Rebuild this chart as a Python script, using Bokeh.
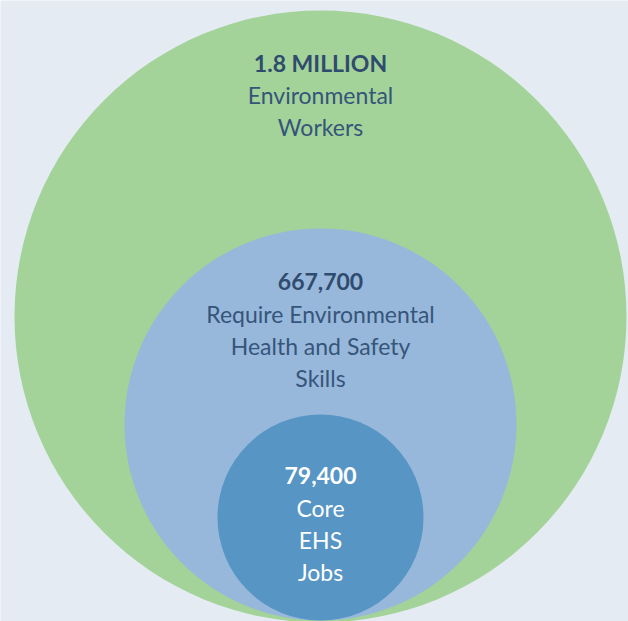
from bokeh.plotting import figure
from bokeh.embed import file_html
from bokeh.resources import INLINE
from bokeh.core.properties import value
from bokeh.models import Range1d

# Data
categories = ["Environmental Workers", "Require EHS Skills", "Core EHS Jobs"]
counts = ["1.8 MILLION", "667,700", "79,400"]
descriptions = [
    ["Environmental", "Workers"],
    ["Require Environmental", "Health and Safety", "Skills"],
    ["Core", "EHS", "Jobs"],
]

# Layout / style (pixel coordinates, y measured from top)
W, H = 628, 621
centers_x = [320, 320, 320]
centers_y = [316, 424, 517]
radii = [306, 196, 103]
fills = ["#a3d398", "#97b8db", "#5795c5"]
title_colors = ["#2f4b6e", "#2f4b6e", "#ffffff"]
text_colors = ["#36557a", "#36557a", "#ffffff"]
title_y = [62, 281, 475]
line_gap = 32
font = "Lato"

p = figure(width=W, height=H, output_backend="svg", toolbar_location=None,
           x_range=Range1d(0, W), y_range=Range1d(H, 0),
           min_border=0, background_fill_color="#e4ebf3",
           border_fill_color="#e4ebf3", outline_line_color=None)
p.axis.visible = False
p.grid.visible = False

p.circle(x=centers_x, y=centers_y, radius=radii, fill_color=fills,
         line_color=None)

for i in range(len(categories)):
    p.text(x=[centers_x[i]], y=[title_y[i]], text=[counts[i]],
           text_align="center", text_baseline="middle",
           text_font=value(font), text_font_style="bold",
           text_font_size="23px", text_color=title_colors[i])
    ys = [title_y[i] + line_gap * (k + 1) for k in range(len(descriptions[i]))]
    p.text(x=[centers_x[i]] * len(ys), y=ys, text=descriptions[i],
           text_align="center", text_baseline="middle",
           text_font=value(font), text_font_size="23px",
           text_color=text_colors[i])

open("out.html", "w").write(file_html(p, INLINE))
